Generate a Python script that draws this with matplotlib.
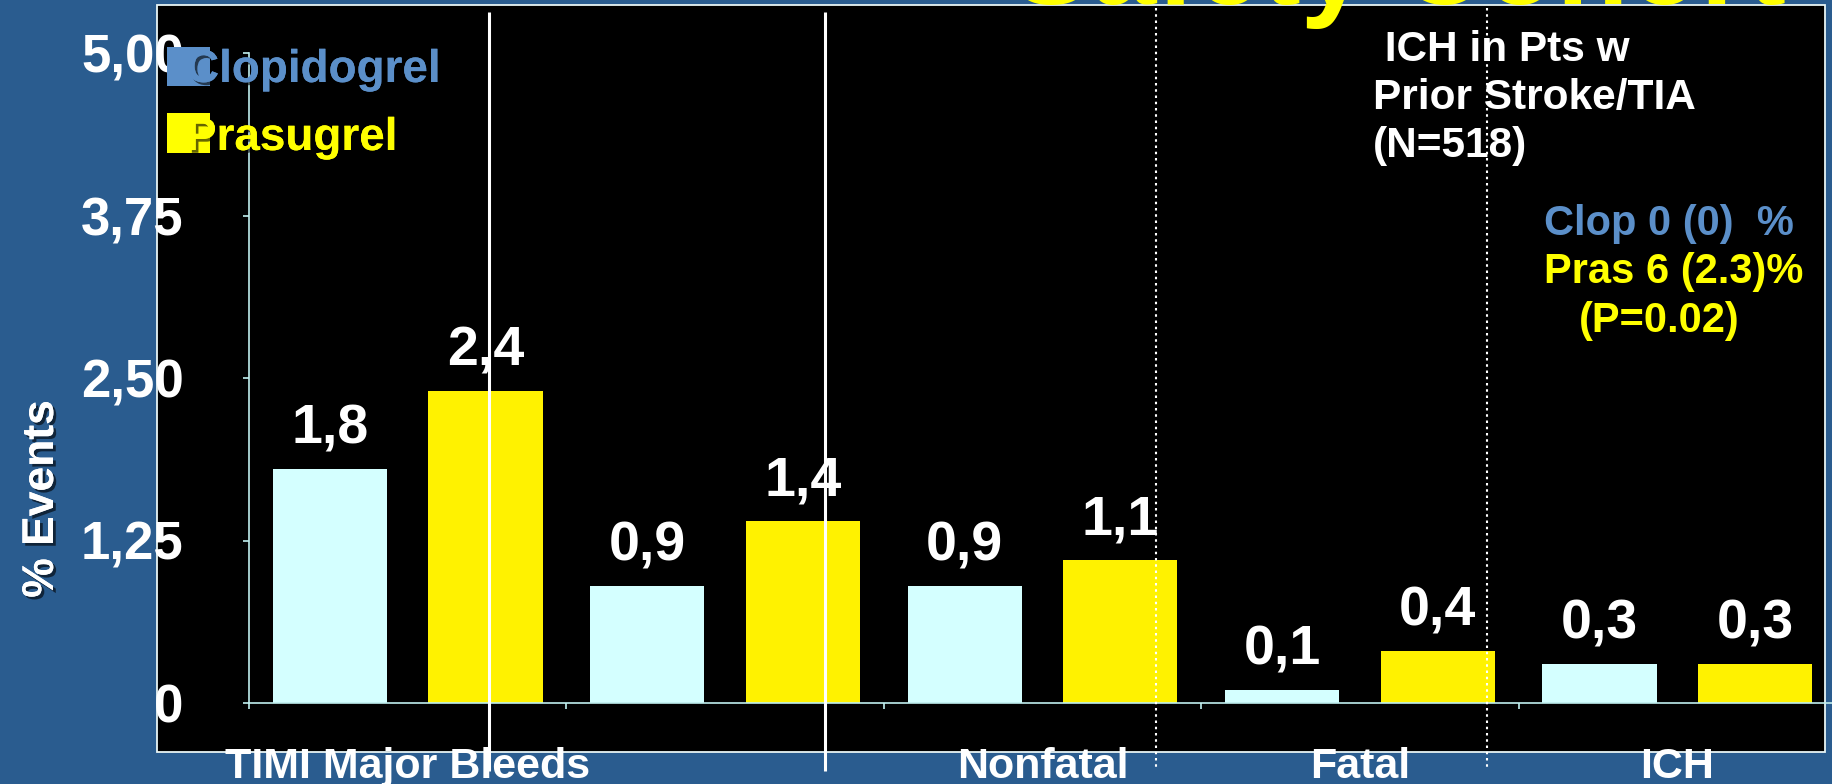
import numpy as np
import matplotlib
matplotlib.use("Agg")
import matplotlib.pyplot as plt
from matplotlib.patches import Rectangle
from matplotlib import transforms
import matplotlib.patheffects as pe

# ---- data -------------------------------------------------------------
categories = ["TIMI Major Bleeds", "", "Nonfatal", "Fatal", "ICH"]
clopidogrel = [1.8, 0.9, 0.9, 0.1, 0.3]
prasugrel = [2.4, 1.4, 1.1, 0.4, 0.3]
series_names = ["Clopidogrel", "Prasugrel"]
ytick_values = [0, 1.25, 2.50, 3.75, 5.00]
ytick_labels = ["0", "1,25", "2,50", "3,75", "5,00"]
ylabel = "% Events"
title = "Safety Cohort"
note_lines = [" ICH in Pts w", "Prior Stroke/TIA", "(N=518)"]
ich_clop = "Clop 0 (0)  %"
ich_pras = "Pras 6 (2.3)%"
ich_p = "(P=0.02)"

# ---- style ------------------------------------------------------------
BG = "#2A5C8F"
CLOP_BAR = "#D4FFFF"
PRAS_BAR = "#FFF200"
CLOP_TXT = "#5B8FC9"
PRAS_TXT = "#FFFF00"
AXIS_C = "#BFEFEF"

plt.rcParams["font.family"] = ["Liberation Sans", "DejaVu Sans"]
plt.rcParams["font.weight"] = "bold"

W, H = 1833, 784
fig = plt.figure(figsize=(W / 100, H / 100), dpi=100)
fig.patch.set_facecolor(BG)

# background layer in pixel units (origin top-left)
bg = fig.add_axes([0, 0, 1, 1], zorder=-1)
bg.set_xlim(0, W)
bg.set_ylim(H, 0)
bg.axis("off")
bg.add_patch(Rectangle((157, 5), 1825 - 157, 752 - 5, facecolor="black",
                       edgecolor="#E8F4F4", lw=1.3))

# ---- main chart -------------------------------------------------------
ax = fig.add_axes([249 / W, 1 - 703 / H, (1836 - 249) / W, (703 - 53) / H], zorder=0)
ax.set_facecolor("none")
x = np.arange(len(categories))
bw = 0.36
off = 0.245
ax.bar(x - off, clopidogrel, bw, color=CLOP_BAR, zorder=2)
ax.bar(x + off, prasugrel, bw, color=PRAS_BAR, zorder=2)

for xs, vals in ((x - off, clopidogrel), (x + off, prasugrel)):
    for xi, v in zip(xs, vals):
        ax.annotate(f"{v:.1f}".replace(".", ","), xy=(xi, v), xytext=(0, 18.5),
                    textcoords="offset points", ha="center", va="baseline",
                    color="white", fontsize=40, fontweight="bold")

ax.set_xlim(-0.5, len(categories) - 0.5)
ax.set_ylim(0, 5.0)
for s in ("top", "right"):
    ax.spines[s].set_visible(False)
for s in ("left", "bottom"):
    ax.spines[s].set_color(AXIS_C)
    ax.spines[s].set_linewidth(1.2)

ax.set_xticks(np.arange(-0.5, len(categories), 1.0))
ax.set_xticklabels([])
ax.tick_params(axis="x", direction="out", length=4, width=1.2, color=AXIS_C)
ax.set_yticks(ytick_values)
ax.set_yticklabels(ytick_labels)
ax.tick_params(axis="y", direction="out", length=4, width=1.2, color=AXIS_C,
               labelcolor="white", labelsize=38, pad=43)
for lab in ax.get_yticklabels():
    lab.set_fontweight("bold")

# ---- overlay layer (pixel units, origin top-left) ---------------------
ov = fig.add_axes([0, 0, 1, 1], zorder=2)
ov.set_xlim(0, W)
ov.set_ylim(H, 0)
ov.axis("off")

# category names under the panel
cat_tr = transforms.blended_transform_factory(ax.transData, ov.transData)
for xi, name in zip(x, categories):
    ov.text(xi, 778, name, transform=cat_tr, ha="center", va="baseline",
            color="white", fontsize=31, fontweight="bold")

# y-axis title
shadow = [pe.withSimplePatchShadow(offset=(2, -2), shadow_rgbFace="black", alpha=0.6), pe.Normal()]
ov.text(53, 499, ylabel, rotation=90, rotation_mode="anchor", ha="center", va="baseline",
        color="white", fontsize=32, fontweight="bold", path_effects=shadow)

# divider lines
for xv in (489, 825):
    ov.plot([xv, xv], [12, 771], color="white", lw=2.2, solid_capstyle="butt")
for xv in (1156, 1487):
    ov.plot([xv, xv], [8, 767], color="white", lw=1.5, linestyle=(0, (1.2, 1.8)))

# legend
ov.add_patch(Rectangle((167, 47), 43, 39, facecolor=CLOP_TXT, edgecolor="none"))
ov.add_patch(Rectangle((167, 113), 43, 40, facecolor=PRAS_TXT, edgecolor="none"))
ov.text(186, 82, series_names[0], color=CLOP_TXT, fontsize=33, fontweight="bold",
        va="baseline", path_effects=shadow)
ov.text(186, 150, series_names[1], color=PRAS_TXT, fontsize=33, fontweight="bold",
        va="baseline", path_effects=shadow)

# title, mostly above the visible area
ov.text(1012, 4, title, color=PRAS_TXT, fontsize=85, fontweight="bold",
        va="baseline", ha="left")

# ICH note
for i, line in enumerate(note_lines):
    ov.text(1373, 61 + 48 * i, line, color="white", fontsize=30.5, fontweight="bold",
            va="baseline", ha="left")
ov.text(1544, 235, ich_clop, color=CLOP_TXT, fontsize=30, fontweight="bold", va="baseline")
ov.text(1544, 283, ich_pras, color=PRAS_TXT, fontsize=30, fontweight="bold", va="baseline")
ov.text(1579, 332, ich_p, color=PRAS_TXT, fontsize=30, fontweight="bold", va="baseline")

fig.savefig("out.png", dpi=100, facecolor=fig.get_facecolor())
